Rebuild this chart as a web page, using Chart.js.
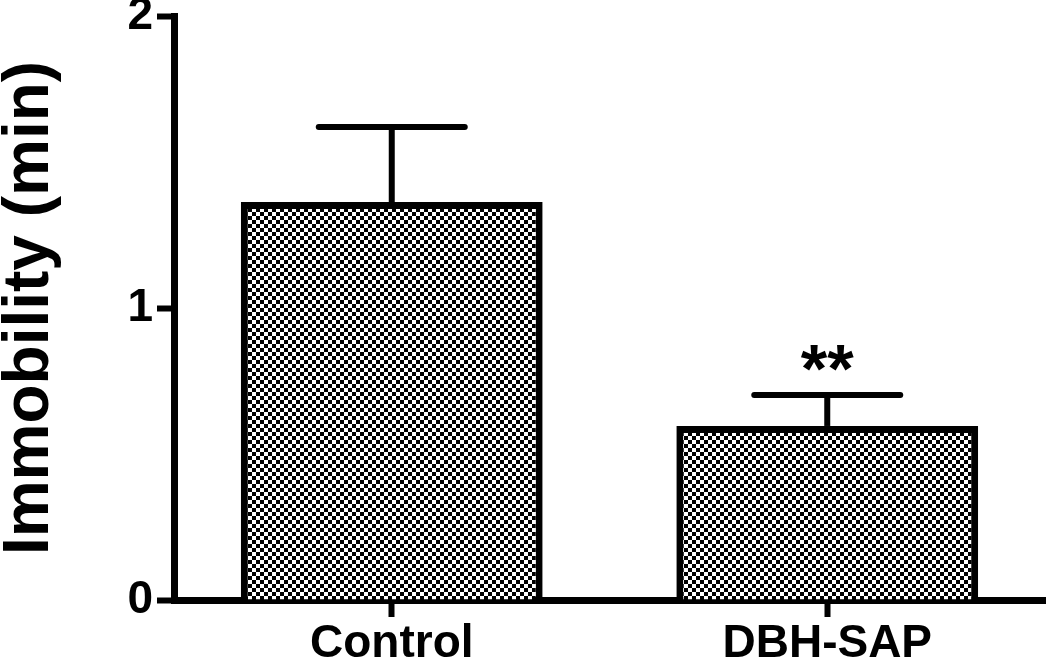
<!DOCTYPE html>
<html>
<head>
<meta charset="utf-8">
<script src="https://cdn.jsdelivr.net/npm/chart.js@4/dist/chart.umd.min.js"></script>
<style>
  html, body { margin: 0; padding: 0; background: #fff; }
  #wrap { width: 1050px; height: 662px; }
</style>
</head>
<body>
<div id="wrap"><canvas id="chart" width="1050" height="662"></canvas></div>
<script>
const groups = ['Control', 'DBH-SAP'];
const immobility = [1.363, 0.596];
const sem = [0.257, 0.106];
const significance = ['', '**'];
const yMin = 0, yMax = 2, yStep = 1;

const FONT = "'Liberation Sans', Arial, sans-serif";

// checkerboard fill for the bars
function checkerPattern() {
  const c = document.createElement('canvas');
  c.width = 8; c.height = 8;
  const g = c.getContext('2d');
  g.fillStyle = '#fff';
  g.fillRect(0, 0, 8, 8);
  g.fillStyle = '#000';
  g.fillRect(0, 0, 4, 4);
  g.fillRect(4, 4, 4, 4);
  return g.createPattern(c, 'repeat');
}

const errorBars = {
  id: 'errorBars',
  afterDatasetsDraw(chart) {
    const ctx = chart.ctx;
    const x = chart.scales.x, y = chart.scales.y;
    ctx.save();
    ctx.strokeStyle = '#000';
    ctx.fillStyle = '#000';
    ctx.lineWidth = 6;
    immobility.forEach((v, i) => {
      const px = x.getPixelForValue(i);
      const yBar = y.getPixelForValue(v);
      const yTop = y.getPixelForValue(v + sem[i]);
      ctx.lineCap = 'butt';
      ctx.beginPath();
      ctx.moveTo(px, yBar);
      ctx.lineTo(px, yTop);
      ctx.stroke();
      ctx.lineCap = 'round';
      ctx.beginPath();
      ctx.moveTo(px - 73, yTop);
      ctx.lineTo(px + 73, yTop);
      ctx.stroke();
      if (significance[i]) {
        ctx.font = 'bold 68px ' + FONT;
        ctx.textAlign = 'center';
        ctx.textBaseline = 'alphabetic';
        ctx.fillText(significance[i], px, yTop - 3);
      }
    });
    ctx.restore();
  }
};

new Chart(document.getElementById('chart'), {
  type: 'bar',
  data: {
    labels: groups,
    datasets: [{
      data: immobility,
      backgroundColor: checkerPattern(),
      borderColor: '#000',
      borderWidth: 7,
      barPercentage: 0.693,
      categoryPercentage: 1
    }]
  },
  options: {
    responsive: false,
    animation: false,
    layout: { padding: { top: 16, right: 5, left: 0, bottom: 0 } },
    plugins: {
      legend: { display: false },
      tooltip: { enabled: false }
    },
    scales: {
      x: {
        offset: true,
        grid: {
          offset: false,
          drawOnChartArea: false,
          drawTicks: true,
          tickLength: 17,
          tickWidth: 6,
          tickColor: '#000'
        },
        border: { display: true, color: '#000', width: 7 },
        ticks: {
          color: '#000',
          padding: 2,
          maxRotation: 0,
          font: { family: FONT, size: 46, weight: 'bold', lineHeight: 1.1 }
        },
        afterFit(scale) {
          scale.height = 62;
          scale.paddingLeft = 0;
          scale.paddingRight = 0;
        }
      },
      y: {
        min: yMin,
        max: yMax,
        grid: {
          drawOnChartArea: false,
          drawTicks: true,
          tickLength: 17,
          tickWidth: 6,
          tickColor: '#000'
        },
        border: { display: true, color: '#000', width: 7 },
        ticks: {
          stepSize: yStep,
          color: '#000',
          padding: 4,
          font: { family: FONT, size: 46, weight: 'bold' }
        },
        title: {
          display: true,
          text: 'Immobility (min)',
          color: '#000',
          padding: 0,
          font: { family: FONT, size: 64, weight: 'bold', lineHeight: 0.95 }
        },
        afterFit(scale) {
          scale.width = 174;
          scale.paddingTop = 0;
          scale.paddingBottom = 0;
        }
      }
    }
  },
  plugins: [errorBars]
});
</script>
</body>
</html>
